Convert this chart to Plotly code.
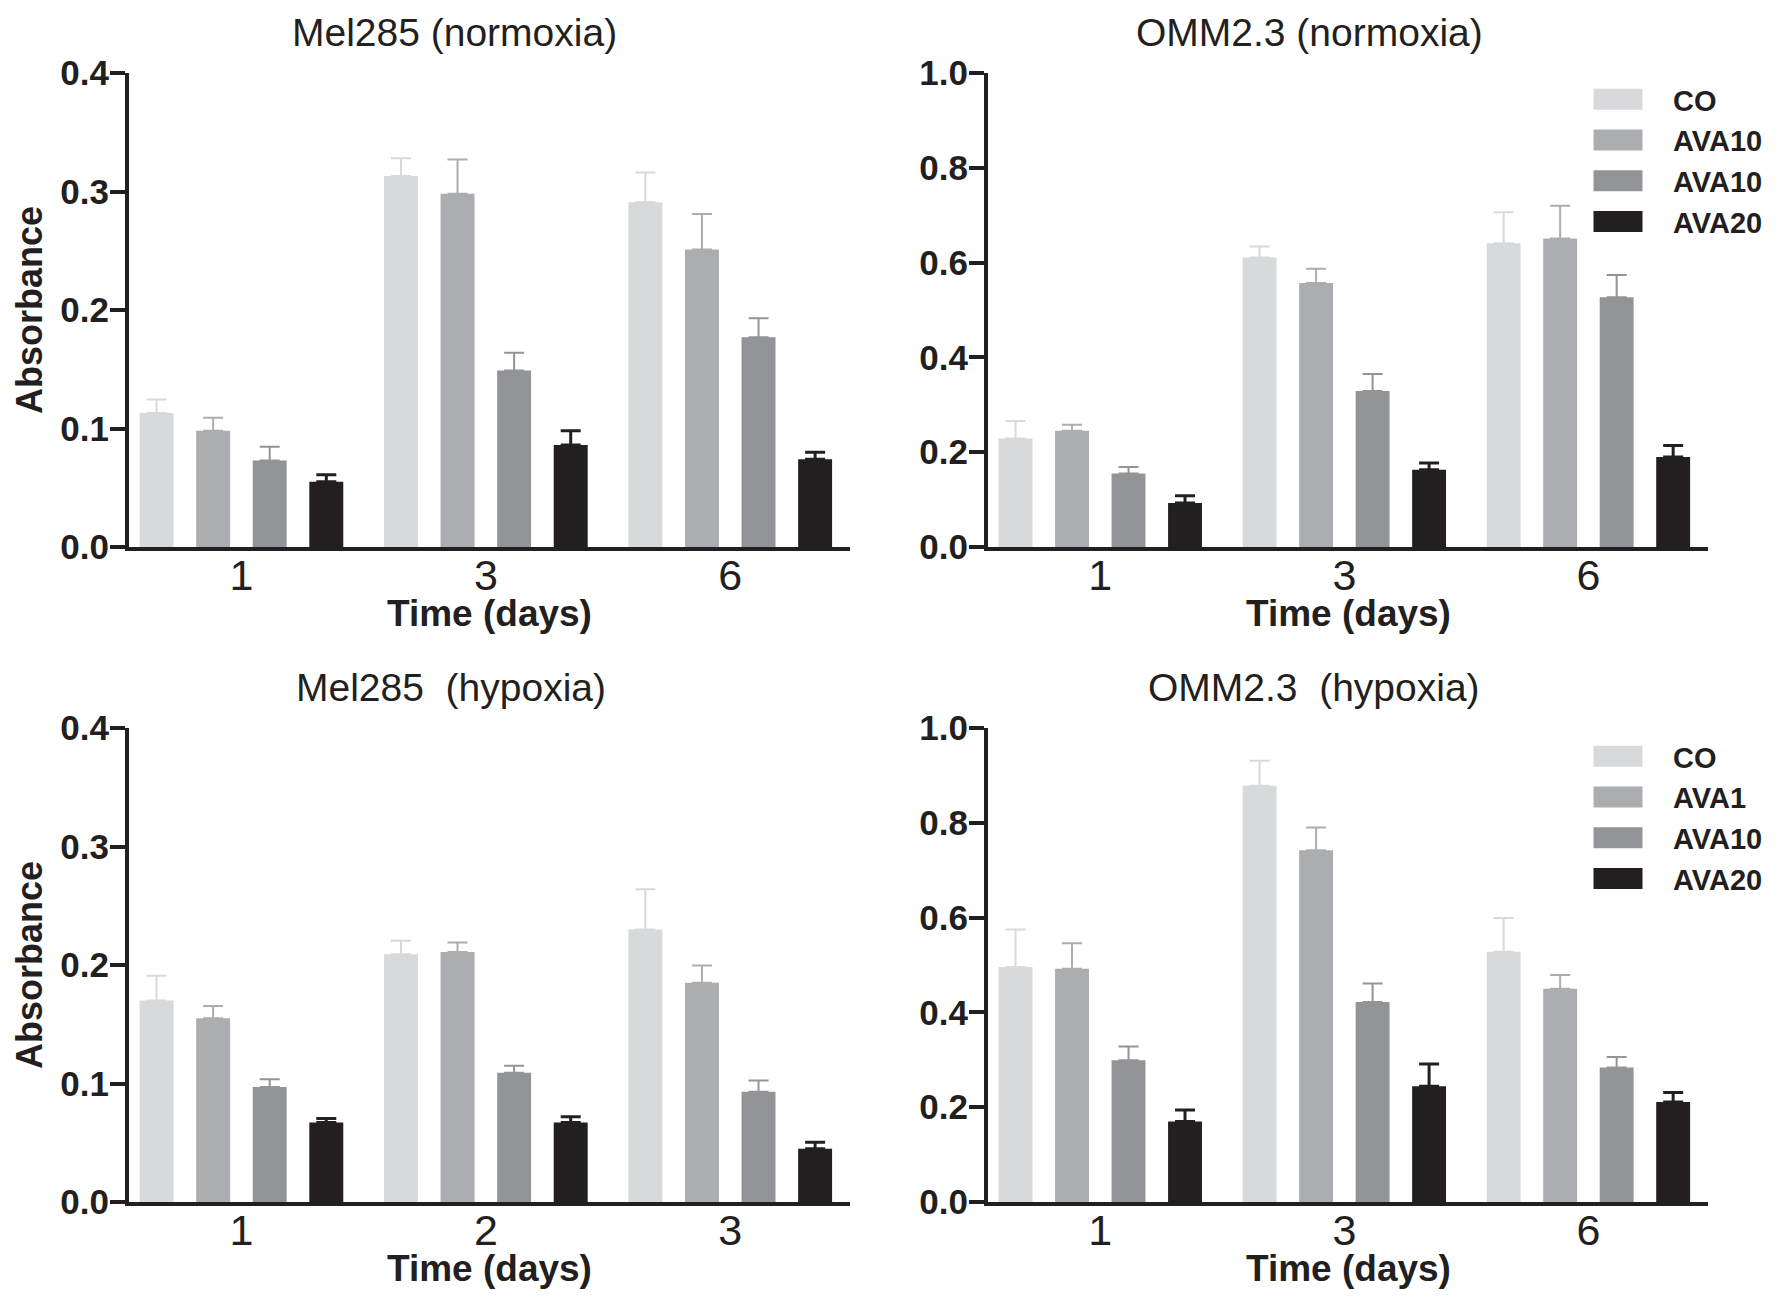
import plotly.graph_objects as go

# ---------------- data ----------------
series_names = ["CO", "AVA1", "AVA10", "AVA20"]
legend_labels_normoxia = ["CO", "AVA10", "AVA10", "AVA20"]
legend_labels_hypoxia = ["CO", "AVA1", "AVA10", "AVA20"]

days_mel285_normoxia = ["1", "3", "6"]
days_omm23_normoxia = ["1", "3", "6"]
days_mel285_hypoxia = ["1", "2", "3"]
days_omm23_hypoxia = ["1", "3", "6"]

# mean absorbance, one list per series (CO, AVA1, AVA10, AVA20)
mel285_normoxia_mean = [[0.113, 0.313, 0.291],
                        [0.098, 0.298, 0.251],
                        [0.073, 0.149, 0.177],
                        [0.055, 0.086, 0.074]]
mel285_normoxia_err = [[0.0115, 0.015, 0.025],
                       [0.011, 0.029, 0.030],
                       [0.0115, 0.015, 0.016],
                       [0.006, 0.012, 0.006]]

omm23_normoxia_mean = [[0.229, 0.611, 0.641],
                       [0.245, 0.557, 0.651],
                       [0.155, 0.329, 0.527],
                       [0.093, 0.163, 0.190]]
omm23_normoxia_err = [[0.037, 0.023, 0.065],
                      [0.013, 0.030, 0.069],
                      [0.014, 0.036, 0.047],
                      [0.015, 0.014, 0.024]]

mel285_hypoxia_mean = [[0.170, 0.209, 0.230],
                       [0.155, 0.211, 0.185],
                       [0.097, 0.109, 0.093],
                       [0.067, 0.067, 0.045]]
mel285_hypoxia_err = [[0.021, 0.0115, 0.034],
                      [0.0105, 0.008, 0.0145],
                      [0.0065, 0.006, 0.0095],
                      [0.0035, 0.005, 0.0055]]

omm23_hypoxia_mean = [[0.496, 0.878, 0.528],
                      [0.492, 0.742, 0.450],
                      [0.299, 0.422, 0.284],
                      [0.170, 0.244, 0.211]]
omm23_hypoxia_err = [[0.079, 0.053, 0.071],
                     [0.054, 0.048, 0.029],
                     [0.029, 0.039, 0.022],
                     [0.024, 0.047, 0.020]]

titles = ["Mel285 (normoxia)", "OMM2.3 (normoxia)",
          "Mel285\u00a0 (hypoxia)", "OMM2.3\u00a0 (hypoxia)"]
y_axis_title = "Absorbance"
x_axis_title = "Time (days)"
y_max_mel285 = 0.4
y_max_omm23 = 1.0

# ---------------- styles ----------------
colors = ["#d8d9db", "#acadb1", "#939498", "#231f20"]
err_thickness = [2, 2, 2, 3]
ink = "#231f20"
FONT = "Liberation Sans, Arial, Helvetica, sans-serif"
W, H = 1782, 1306

panels = [
    dict(days=days_mel285_normoxia, mean=mel285_normoxia_mean, err=mel285_normoxia_err,
         ymax=y_max_mel285, dtick=0.1, labels=None, legend=None,
         px=(129, 850), py=(73, 547), title_xy=(454, 32), xtitle_y=613, ytitle=True),
    dict(days=days_omm23_normoxia, mean=omm23_normoxia_mean, err=omm23_normoxia_err,
         ymax=y_max_omm23, dtick=0.2, labels=legend_labels_normoxia, legend="legend",
         px=(988, 1708), py=(73, 547), title_xy=(1309, 32), xtitle_y=613, ytitle=False),
    dict(days=days_mel285_hypoxia, mean=mel285_hypoxia_mean, err=mel285_hypoxia_err,
         ymax=y_max_mel285, dtick=0.1, labels=None, legend=None,
         px=(129, 850), py=(728, 1202), title_xy=(451, 687), xtitle_y=1268, ytitle=True),
    dict(days=days_omm23_hypoxia, mean=omm23_hypoxia_mean, err=omm23_hypoxia_err,
         ymax=y_max_omm23, dtick=0.2, labels=legend_labels_hypoxia, legend="legend2",
         px=(988, 1708), py=(728, 1202), title_xy=(1314, 687), xtitle_y=1268, ytitle=False),
]

fig = go.Figure()
annotations = []
layout = {}

for i, p in enumerate(panels):
    n = "" if i == 0 else str(i + 1)
    xa, ya = "x" + n, "y" + n
    for s in range(4):
        fig.add_trace(go.Bar(
            x=p["days"], y=p["mean"][s],
            name=(p["labels"][s] if p["labels"] else series_names[s]),
            marker=dict(color=colors[s], line=dict(width=0)),
            error_y=dict(type="data", symmetric=False, array=p["err"][s],
                         arrayminus=[0] * len(p["err"][s]),
                         color=colors[s], thickness=err_thickness[s], width=10),
            xaxis=xa, yaxis=ya,
            showlegend=p["legend"] is not None,
            legend=p["legend"] if p["legend"] else "legend",
        ))
    layout["xaxis" + n] = dict(
        domain=[p["px"][0] / W, p["px"][1] / W], anchor=ya,
        type="category", range=[-0.46, 2.49],
        showline=True, linewidth=4, linecolor=ink, ticks="",
        showgrid=False, zeroline=False, ticklabelstandoff=-13,
        tickfont=dict(family=FONT, size=43, color=ink),
        automargin=False, fixedrange=True,
    )
    layout["yaxis" + n] = dict(
        domain=[1 - p["py"][1] / H, 1 - p["py"][0] / H], anchor=xa,
        range=[0, p["ymax"]], dtick=p["dtick"], tickformat=".1f",
        showline=True, linewidth=4, linecolor=ink,
        ticks="outside", ticklen=15, tickwidth=4, tickcolor=ink,
        showgrid=False, zeroline=False, ticklabelstandoff=-6,
        tickfont=dict(family=FONT, size=35, color=ink, weight="bold"),
        title=dict(text=y_axis_title if p["ytitle"] else "", standoff=8,
                   font=dict(family=FONT, size=36, color=ink, weight="bold")),
        automargin=False, fixedrange=True,
    )
    # panel title
    annotations.append(dict(
        text=titles[i], xref="paper", yref="paper",
        x=p["title_xy"][0] / W, y=1 - p["title_xy"][1] / H,
        xanchor="center", yanchor="middle", showarrow=False,
        font=dict(family=FONT, size=39, color=ink),
    ))
    # x-axis title, centred under the axis
    annotations.append(dict(
        text=x_axis_title, xref=xa + " domain", yref="paper",
        x=0.5, y=1 - p["xtitle_y"] / H,
        xanchor="center", yanchor="middle", showarrow=False,
        font=dict(family=FONT, size=37, color=ink, weight="bold"),
    ))

legend_style = dict(font=dict(family=FONT, size=29, color=ink, weight="bold"),
                    bgcolor="rgba(0,0,0,0)", borderwidth=0, itemwidth=100,
                    xanchor="left", yanchor="top", traceorder="normal",
                    itemclick=False, itemdoubleclick=False)

fig.update_layout(
    width=W, height=H,
    margin=dict(l=0, r=0, t=0, b=0),
    paper_bgcolor="white", plot_bgcolor="white",
    barmode="group", bargap=0.074, bargroupgap=0.4,
    annotations=annotations,
    legend=dict(x=1563 / W, y=1 - 74 / H, **legend_style),
    legend2=dict(x=1563 / W, y=1 - 731 / H, **legend_style),
    **layout,
)

# page without the browser's default body margin; wide legend swatches
post = (
    "document.body.style.margin='0';document.body.style.padding='0';"
    "var gd=document.getElementById('{plot_id}');"
    "function wideSwatches(){"
    "gd.querySelectorAll('.legendpoints path').forEach(function(p){"
    "p.setAttribute('d','M24.5,10.5H-24.5V-10.5H24.5Z');});}"
    "wideSwatches();"
    "if(gd.on){gd.on('plotly_afterplot',wideSwatches);}"
    "setTimeout(wideSwatches,50);setTimeout(wideSwatches,300);"
)

fig.write_html("out.html", post_script=post,
               config={"displayModeBar": False, "responsive": False})
